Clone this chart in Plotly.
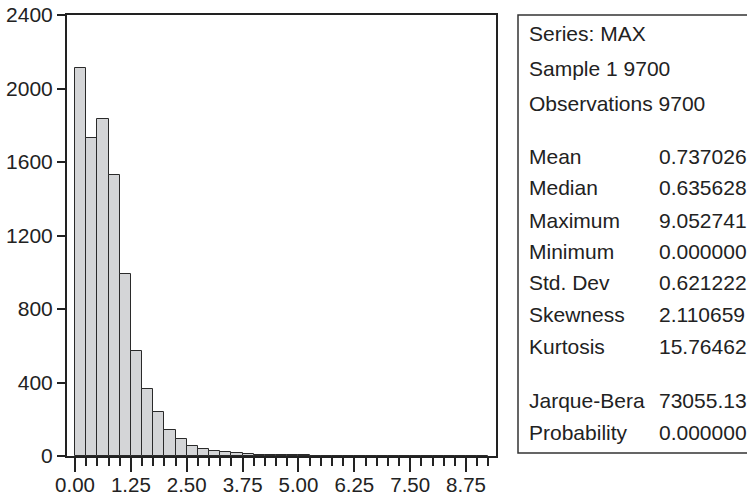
import plotly.graph_objects as go

# ---- data ----
bin_start = 0.0
bin_width = 0.25
counts = [2110, 1729, 1836, 1527, 989, 571, 362, 238, 140, 91, 57, 36, 29, 20, 17,
          9, 8, 5, 4, 3, 3, 2, 2, 0, 0, 0, 0, 0, 0, 0, 0, 0, 0, 0, 1, 0, 1]
x_tickvals = [0.0, 1.25, 2.5, 3.75, 5.0, 6.25, 7.5, 8.75]
x_ticktext = ["0.00", "1.25", "2.50", "3.75", "5.00", "6.25", "7.50", "8.75"]
y_tickvals = [0, 400, 800, 1200, 1600, 2000, 2400]

header_lines = ["Series: MAX", "Sample 1 9700", "Observations 9700"]
stat_names = ["Mean", "Median", "Maximum", "Minimum", "Std. Dev", "Skewness", "Kurtosis"]
stat_values = ["0.737026", "0.635628", "9.052741", "0.000000", "0.621222", "2.110659", "15.76462"]
test_names = ["Jarque-Bera", "Probability"]
test_values = ["73055.13", "0.000000"]

# ---- layout geometry (pixels) ----
W, H = 747, 497
L, R, T, B = 67, 251, 15, 41
PW, PH = W - L - R, H - T - B

def px(xp):
    return (xp - L) / PW

def py(yp):
    return (H - B - yp) / PH

centers = [bin_start + bin_width * (i + 0.5) for i in range(len(counts))]

FONT = "Liberation Sans, Arial, Helvetica, sans-serif"
INK = "#222222"

fig = go.Figure()
fig.add_trace(go.Bar(
    x=centers, y=counts, width=bin_width,
    marker=dict(color="#d4d5d7", line=dict(color="#2a2a2a", width=1)),
    hoverinfo="x+y",
))

axis_common = dict(showgrid=False, zeroline=False, showline=True, linecolor=INK,
                   linewidth=2, mirror=True, ticks="outside", tickcolor=INK,
                   tickwidth=1.5, automargin=False)

fig.update_layout(
    template="none",
    width=W, height=H,
    margin=dict(l=L, r=R, t=T, b=B, pad=0),
    paper_bgcolor="white", plot_bgcolor="white",
    showlegend=False, bargap=0,
    xaxis=dict(range=[-0.179, 9.42], tickvals=x_tickvals, ticktext=x_ticktext,
               ticklen=14, ticklabelstandoff=-5,
               tickfont=dict(family=FONT, size=20.5, color=INK),
               minor=dict(ticks="outside", ticklen=8, tickwidth=1.5, tickcolor=INK,
                          dtick=0.25, tick0=0, showgrid=False),
               **axis_common),
    yaxis=dict(range=[0, 2400], tickvals=y_tickvals, ticklen=8,
               tickfont=dict(family=FONT, size=21, color=INK),
               **axis_common),
)

# stats box
fig.add_shape(type="rect", xref="paper", yref="paper",
              x0=px(518), x1=px(760), y0=py(453), y1=py(15),
              line=dict(color="#333333", width=1.5), fillcolor="rgba(0,0,0,0)")

label_x = px(527)
value_x = px(657)
header_y = [34, 68, 103]
stat_y = [156, 188, 220, 251, 283, 314, 346]
test_y = [400, 432]

def add_text(x, y, s):
    fig.add_annotation(x=x, y=py(y), xref="paper", yref="paper", text=s,
                       showarrow=False, xanchor="left", yanchor="middle",
                       font=dict(family=FONT, size=21, color=INK))

for s, y in zip(header_lines, header_y):
    add_text(label_x, y, s)
for s, v, y in zip(stat_names, stat_values, stat_y):
    add_text(label_x, y, s)
    add_text(value_x, y, v)
for s, v, y in zip(test_names, test_values, test_y):
    add_text(label_x, y, s)
    add_text(value_x, y, v)

fig.write_html("out.html")
